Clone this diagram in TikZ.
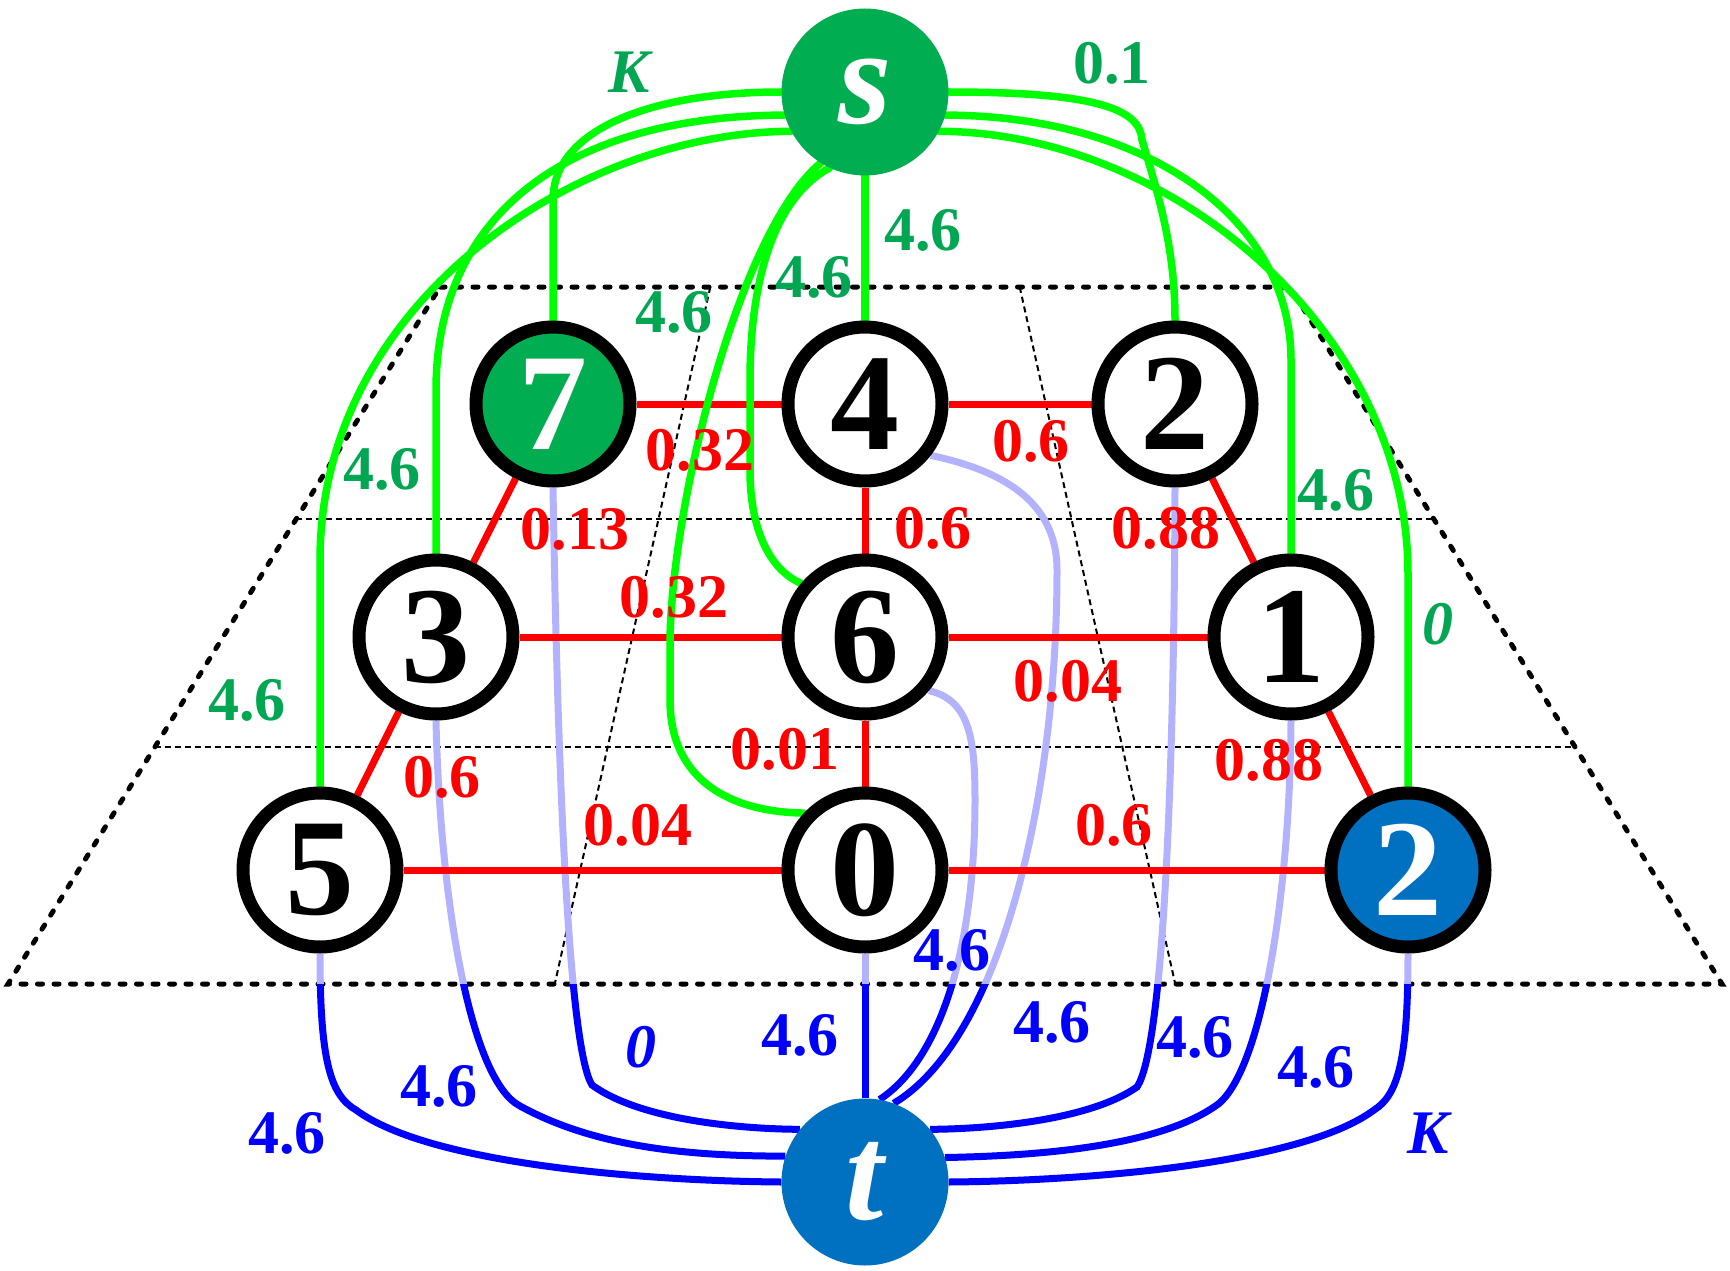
\documentclass[tikz,border=0pt]{standalone}
\usepackage{fontspec}
\setmainfont{Liberation Serif}
\usetikzlibrary{calc}
\definecolor{sgreen}{RGB}{0,173,80}
\definecolor{lgreen}{RGB}{0,166,81}
\definecolor{brgreen}{RGB}{0,255,0}
\definecolor{tblue}{RGB}{0,112,192}
\definecolor{ltblue}{RGB}{178,178,255}
\definecolor{bblue}{RGB}{0,0,255}
\definecolor{rred}{RGB}{255,0,0}
\pgfdeclarelayer{background}
\pgfsetlayers{background,main}
\newcommand\BluePaths{%
 \draw[bl] (n5.south) .. controls (320,1060) and (330,1095) .. (356,1110) .. controls (430,1165) and (650,1181) .. (t.180);
 \draw[bl] (n3.south) .. controls (440,900) and (470,1080) .. (520,1106) .. controls (600,1150) and (700,1156) .. (t.162.5);
 \draw[bl] (n7.south) .. controls (558,800) and (570,1050) .. (592,1085) .. controls (640,1120) and (740,1129) .. (t.141);
 \draw[bl] (n0.south) -- (t.north);
 \draw[bl] (n6.-40) .. controls (970,700) and (975,740) .. (975,800) .. controls (975,950) and (940,1060) .. (t.80);
 \draw[bl] (n4.-38) .. controls (1000,470) and (1057,500) .. (1057,570) .. controls (1057,800) and (1000,1040) .. (t.70);
 \draw[bl] (n2.south) .. controls (1174,800) and (1162,1050) .. (1137,1087) .. controls (1090,1120) and (990,1129) .. (t.39);
 \draw[bl] (n1.south) .. controls (1290,900) and (1260,1080) .. (1214,1107) .. controls (1150,1150) and (1020,1156) .. (t.17.5);
 \draw[bl] (b2.south) .. controls (1408,1060) and (1398,1095) .. (1374,1110) .. controls (1300,1165) and (1080,1181) .. (t.0);
}
\begin{document}
\begin{tikzpicture}[x=1pt,y=-1pt,
 vert/.style={circle,draw=black,line width=13pt,fill=white,minimum size=154pt,inner sep=0pt,
   font=\fontsize{138}{138}\selectfont\bfseries},
 term/.style={circle,minimum size=167pt,inner sep=0pt,text=white,
   font=\fontsize{137}{137}\selectfont\bfseries\itshape},
 lab/.style={inner sep=0pt,font=\fontsize{62}{62}\selectfont\bfseries},
 ilab/.style={inner sep=0pt,font=\fontsize{62}{62}\selectfont\bfseries\itshape},
 rlab/.style={lab,text=rred},
 glab/.style={lab,text=lgreen},
 gilab/.style={ilab,text=lgreen},
 blab/.style={lab,text=bblue},
 bilab/.style={ilab,text=bblue},
 redge/.style={draw=rred,line width=7pt},
 gedge/.style={draw=brgreen,line width=7.5pt,line cap=round},
 outer/.style={draw=black,line width=5pt,line cap=round,dash pattern=on 5pt off 11.5pt},
 inner/.style={draw=black,line width=2pt,dash pattern=on 6pt off 4pt},
]
\useasboundingbox (0,0) rectangle (1730,1271);

% nodes
\node[term,fill=sgreen] (s) at (865,92) {s};
\node[term,fill=tblue] (t) at (865,1182) {t};
\node[vert,fill=sgreen,text=white] (n7) at (553,404) {7};
\node[vert] (n4) at (865,404) {4};
\node[vert] (n2) at (1175,404) {2};
\node[vert] (n3) at (436,637) {3};
\node[vert] (n6) at (865,637) {6};
\node[vert] (n1) at (1291,637) {1};
\node[vert] (n5) at (320,870) {5};
\node[vert] (n0) at (865,870) {0};
\node[vert,fill=tblue,text=white] (b2) at (1408,870) {2};

\begin{pgfonlayer}{background}
% trapezoid plane
\coordinate (TL) at (440,287);
\coordinate (TR) at (1290,287);
\coordinate (BL) at (8,984);
\coordinate (BR) at (1722,984);
\draw[inner] ($(TL)!0.333!(BL)$) -- ($(TR)!0.333!(BR)$);
\draw[inner] ($(TL)!0.66!(BL)$) -- ($(TR)!0.66!(BR)$);
\draw[inner] ($(TL)!0.318!(TR)$) -- ($(BL)!0.319!(BR)$);
\draw[inner] ($(TL)!0.682!(TR)$) -- ($(BL)!0.681!(BR)$);
\draw[outer] (TL) -- (TR) -- (BR) -- (BL) -- cycle;

% blue connectors: light inside the plane, dark below
\begin{scope}
 \clip (0,0) rectangle (1730,984);
 \tikzset{bl/.style={draw=ltblue,line width=7pt}}
 \BluePaths
\end{scope}
\begin{scope}
 \clip (0,984) rectangle (1730,1271);
 \tikzset{bl/.style={draw=bblue,line width=7pt}}
 \BluePaths
\end{scope}

% red grid edges
\draw[redge] (n7) -- (n4);
\draw[redge] (n4) -- (n2);
\draw[redge] (n7) -- (n3);
\draw[redge] (n4) -- (n6);
\draw[redge] (n2) -- (n1);
\draw[redge] (n3) -- (n6);
\draw[redge] (n6) -- (n1);
\draw[redge] (n3) -- (n5);
\draw[redge] (n6) -- (n0);
\draw[redge] (n1) -- (b2);
\draw[redge] (n5) -- (n0);
\draw[redge] (n0) -- (b2);

% green connectors from s
\draw[gedge] (s.180) .. controls (650,92) and (553,130) .. (553,200) -- (n7.north);
\draw[gedge] (s.196.6) .. controls (560,116) and (436,220) .. (436,390) -- (n3.north);
\draw[gedge] (s.208.4) .. controls (580,132) and (320,300) .. (320,560) -- (n5.north);
\draw[gedge] (s.0) .. controls (1100,92) and (1140,110) .. (1142,140) .. controls (1160,200) and (1175,250) .. (n2.north);
\draw[gedge] (s.-16.6) .. controls (1150,116) and (1291,220) .. (1291,360) -- (n1.north);
\draw[gedge] (s.-28.4) .. controls (1170,132) and (1408,330) .. (1408,574) -- (b2.north);
\draw[gedge] (s.south) -- (n4.north);
\draw[gedge] (s.245) .. controls (770,200) and (750,290) .. (750,380) -- (750,470) .. controls (750,530) and (770,570) .. (n6.140);
\draw[gedge] (s.238) .. controls (740,230) and (672,500) .. (670,640) -- (670,700) .. controls (670,780) and (730,812) .. (n0.137);
\end{pgfonlayer}

% red labels
\node[rlab] (r74) at (700,450) {0.32};
\node[rlab] (r42) at (1031,441) {0.6};
\node[rlab] (r73) at (575,529) {0.13};
\node[rlab] (r46) at (933,528) {0.6};
\node[rlab] (r21) at (1166,528) {0.88};
\node[rlab] (r36) at (674,597) {0.32};
\node[rlab] (r61) at (1068,681) {0.04};
\node[rlab] (r35) at (442,777) {0.6};
\node[rlab] (r60) at (785,749) {0.01};
\node[rlab] (r1b) at (1269,760) {0.88};
\node[rlab] (r50) at (638,825) {0.04};
\node[rlab] (r0b) at (1114,825) {0.6};

% green labels
\node[gilab] (gK) at (629,72) {K};
\node[glab] (g2) at (1112,63) {0.1};
\node[glab] (g4) at (923,230) {4.6};
\node[glab] (g6) at (814,277) {4.6};
\node[glab] (g0) at (674,312) {4.6};
\node[glab] (g3) at (382,469) {4.6};
\node[glab] (g5) at (247,700) {4.6};
\node[glab] (g1) at (1336,490) {4.6};
\node[gilab] (gb) at (1438,624) {0};

% blue labels
\node[blab] (t5) at (287,1133) {4.6};
\node[blab] (t3) at (439,1086) {4.6};
\node[bilab] (t7) at (641,1047) {0};
\node[blab] (t0) at (800,1035) {4.6};
\node[blab] (t6) at (952,950) {4.6};
\node[blab] (t4) at (1052,1022) {4.6};
\node[blab] (t2) at (1195,1037) {4.6};
\node[blab] (t1) at (1316,1067) {4.6};
\node[bilab] (tb) at (1428,1133) {K};
\end{tikzpicture}
\end{document}
